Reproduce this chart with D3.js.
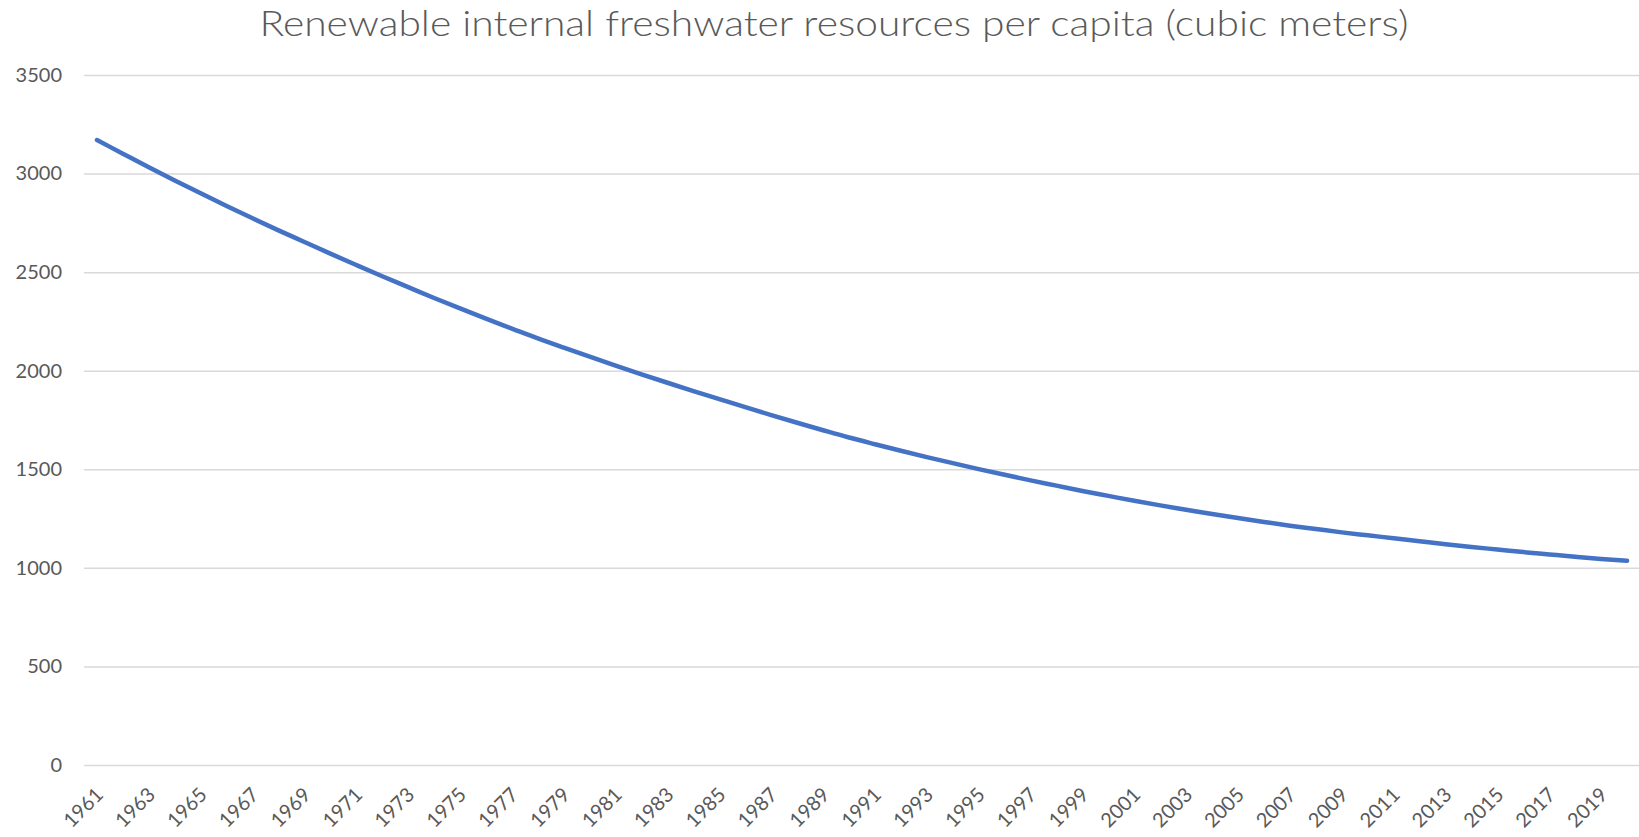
<!DOCTYPE html>
<html>
<head>
<meta charset="utf-8">
<script src="https://cdn.jsdelivr.net/npm/d3@7"></script>
<style>
  html, body { margin: 0; padding: 0; background: #ffffff; }
  svg { display: block; }
  text { font-family: Lato, "Open Sans", sans-serif; fill: #595959; }
</style>
</head>
<body>
<svg id="chart" width="1639" height="837"></svg>
<script>
const title = "Renewable internal freshwater resources per capita (cubic meters)";
const years = d3.range(1961, 2021).map(String);
const values = [
  3170, 3101, 3032, 2965, 2900, 2836, 2773, 2712, 2653, 2594,
  2536, 2479, 2424, 2369, 2316, 2264, 2214, 2164, 2117, 2071,
  2026, 1982, 1939, 1897, 1856, 1815, 1775, 1736, 1698, 1661,
  1627, 1594, 1562, 1531, 1501, 1472, 1444, 1417, 1390, 1365,
  1340, 1317, 1295, 1273, 1253, 1233, 1214, 1197, 1180, 1165,
  1150, 1135, 1120, 1106, 1093, 1080, 1068, 1056, 1045, 1036
];
const yTicks = [0, 500, 1000, 1500, 2000, 2500, 3000, 3500];
const xTickLabels = years.filter((d, i) => i % 2 === 0);

const svg = d3.select("#chart");
const mLeft = 84, mRight = 1640, mTop = 75, mBottom = 765;

const x = d3.scalePoint().domain(years).range([mLeft, mRight]).padding(0.5);
const y = d3.scaleLinear().domain([0, 3500]).range([mBottom, mTop]);

// title
svg.append("text")
  .attr("x", 834).attr("y", 36)
  .attr("text-anchor", "middle")
  .attr("textLength", 1149)
  .attr("lengthAdjust", "spacingAndGlyphs")
  .style("font-size", "35px")
  .style("font-weight", 300)
  .text(title);

// gridlines + y labels
const yAxis = svg.append("g")
  .attr("transform", `translate(${mLeft},0)`)
  .call(d3.axisLeft(y).tickValues(yTicks).tickSize(-(1639 - mLeft)).tickPadding(22).tickFormat(d3.format("d")));
yAxis.select(".domain").remove();
yAxis.selectAll(".tick line").attr("stroke", "#d9d9d9").attr("stroke-width", 1.5);
yAxis.selectAll(".tick text")
  .style("font-size", "20px")
  .style("font-family", "Lato, sans-serif")
  .attr("fill", "#595959");

// x labels
const xAxis = svg.append("g")
  .attr("transform", `translate(0,${mBottom})`)
  .call(d3.axisBottom(x).tickValues(xTickLabels).tickSize(0).tickPadding(0));
xAxis.select(".domain").remove();
xAxis.selectAll(".tick text")
  .style("font-size", "20px")
  .style("font-family", "Lato, sans-serif")
  .attr("fill", "#595959")
  .attr("text-anchor", "end")
  .attr("dy", 0)
  .attr("y", 0)
  .attr("transform", "translate(7,31) rotate(-45)");

// line
const line = d3.line()
  .x((d, i) => x(years[i]))
  .y(d => y(d))
  .curve(d3.curveMonotoneX);

svg.append("path")
  .datum(values)
  .attr("d", line)
  .attr("fill", "none")
  .attr("stroke", "#4472C4")
  .attr("stroke-width", 4.5)
  .attr("stroke-linecap", "round")
  .attr("stroke-linejoin", "round");
</script>
</body>
</html>
